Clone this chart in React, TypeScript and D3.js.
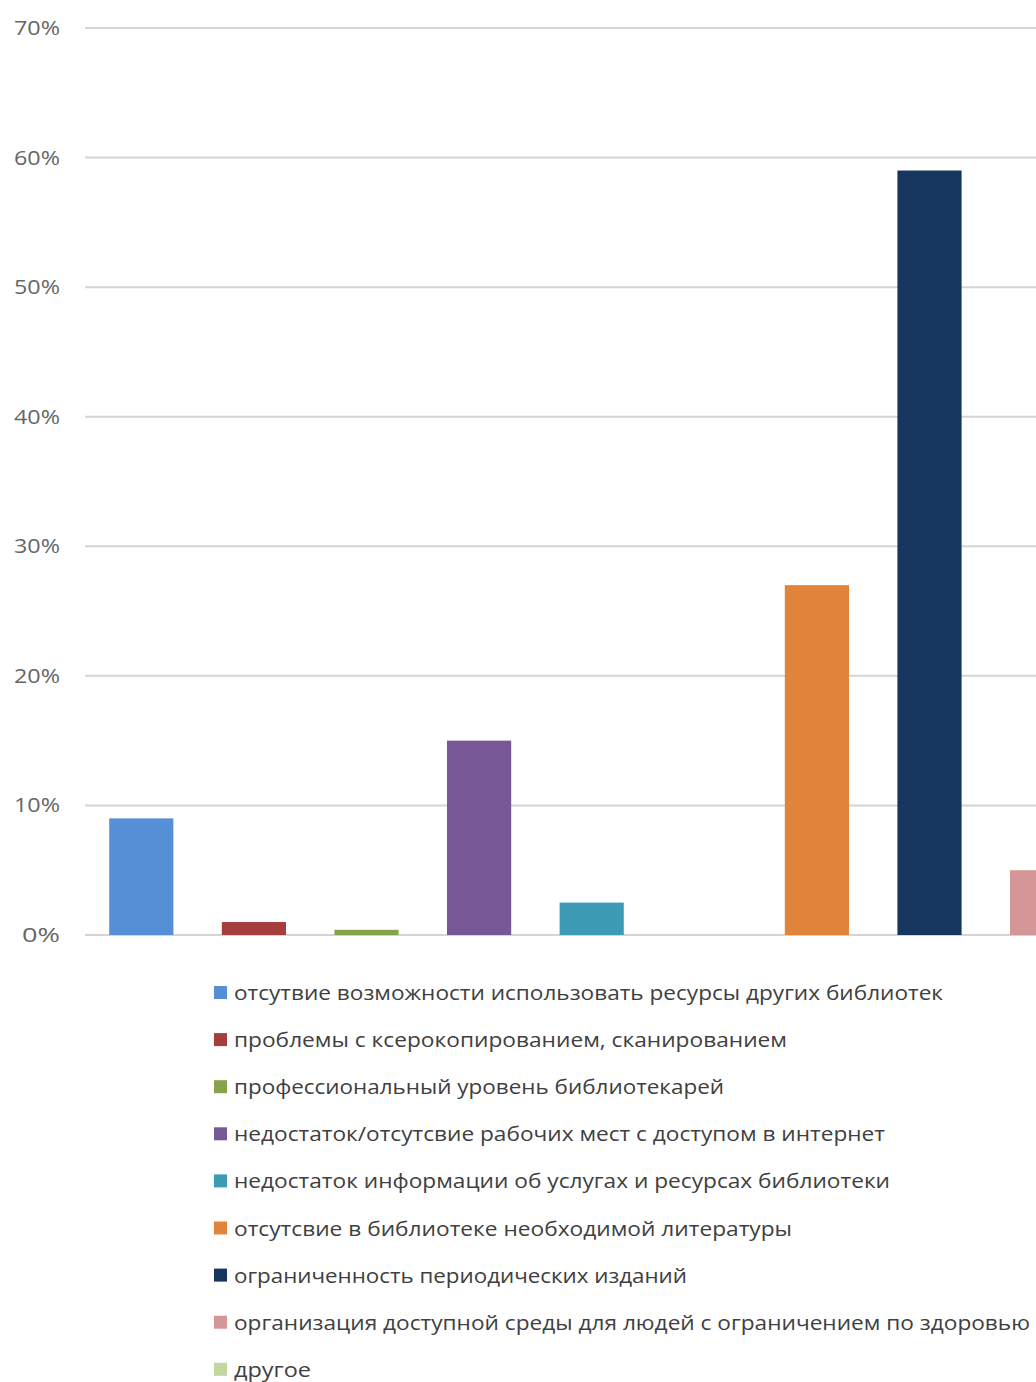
import React from "react";
import * as d3 from "d3";

const seriesNames = [
  "отсутвие возможности использовать ресурсы других библиотек",
  "проблемы с ксерокопированием, сканированием",
  "профессиональный уровень библиотекарей",
  "недостаток/отсутсвие рабочих мест с доступом в интернет",
  "недостаток информации об услугах и ресурсах библиотеки",
  "отсутсвие в библиотеке необходимой литературы",
  "ограниченность периодических изданий",
  "организация доступной среды для людей с ограничением по здоровью",
  "другое",
];
const seriesValues = [0.09, 0.01, 0.004, 0.15, 0.025, 0.27, 0.59, 0.05, 0];
const seriesColors = [
  "#5590d6", "#a63d3d", "#86a24a", "#775896", "#3d9bb6",
  "#e0843c", "#17365f", "#d49696", "#c4d6a0",
];
// order of the bars along the x axis (index into series arrays)
const slotOrder = [0, 1, 2, 3, 4, 8, 5, 6, 7];
const yTicks = [0, 0.1, 0.2, 0.3, 0.4, 0.5, 0.6, 0.7];
// legend text target widths (as measured in the reference)
const legendWidths = [709, 553, 490, 651, 656, 558, 453, 796, 77];

export default function App() {
  const W = 1036, H = 1382;
  const x = d3
    .scaleBand<number>()
    .domain(slotOrder)
    .range([85, 85 + 112.6 * slotOrder.length])
    .paddingInner(0.43)
    .paddingOuter(0.215);
  const y = d3.scaleLinear().domain([0, 0.7]).range([935, 28]);
  const fmt = d3.format(".0%");
  const font = "'Open Sans', 'Noto Sans', sans-serif";

  return (
    <svg
      width={W}
      height={H}
      style={{ position: "absolute", left: 0, top: 0, background: "#fff" }}
      fontFamily={font}
    >
      <rect width={W} height={H} fill="#fff" />
      {yTicks.map((t) => (
        <g key={t}>
          <line x1={85} x2={W} y1={y(t)} y2={y(t)} stroke="#d4d4d4" strokeWidth={2} />
          <text
            x={60}
            y={y(t)}
            dy="0.35em"
            textAnchor="end"
            fontSize={20}
            fill="#666"
            textLength={t === 0 ? 38 : 46}
            lengthAdjust="spacingAndGlyphs"
          >
            {fmt(t)}
          </text>
        </g>
      ))}
      {slotOrder.map((i) => (
        <rect
          key={i}
          x={x(i)}
          y={y(seriesValues[i])}
          width={x.bandwidth()}
          height={y(0) - y(seriesValues[i])}
          fill={seriesColors[i]}
        />
      ))}
      {seriesNames.map((name, i) => {
        const cy = 993 + i * 47.1;
        return (
          <g key={name}>
            <rect x={214} y={cy - 7} width={13} height={13} fill={seriesColors[i]} />
            <text
              x={234}
              y={cy}
              dy="0.35em"
              fontSize={20}
              fill="#404040"
              textLength={legendWidths[i]}
              lengthAdjust="spacingAndGlyphs"
            >
              {name}
            </text>
          </g>
        );
      })}
    </svg>
  );
}
